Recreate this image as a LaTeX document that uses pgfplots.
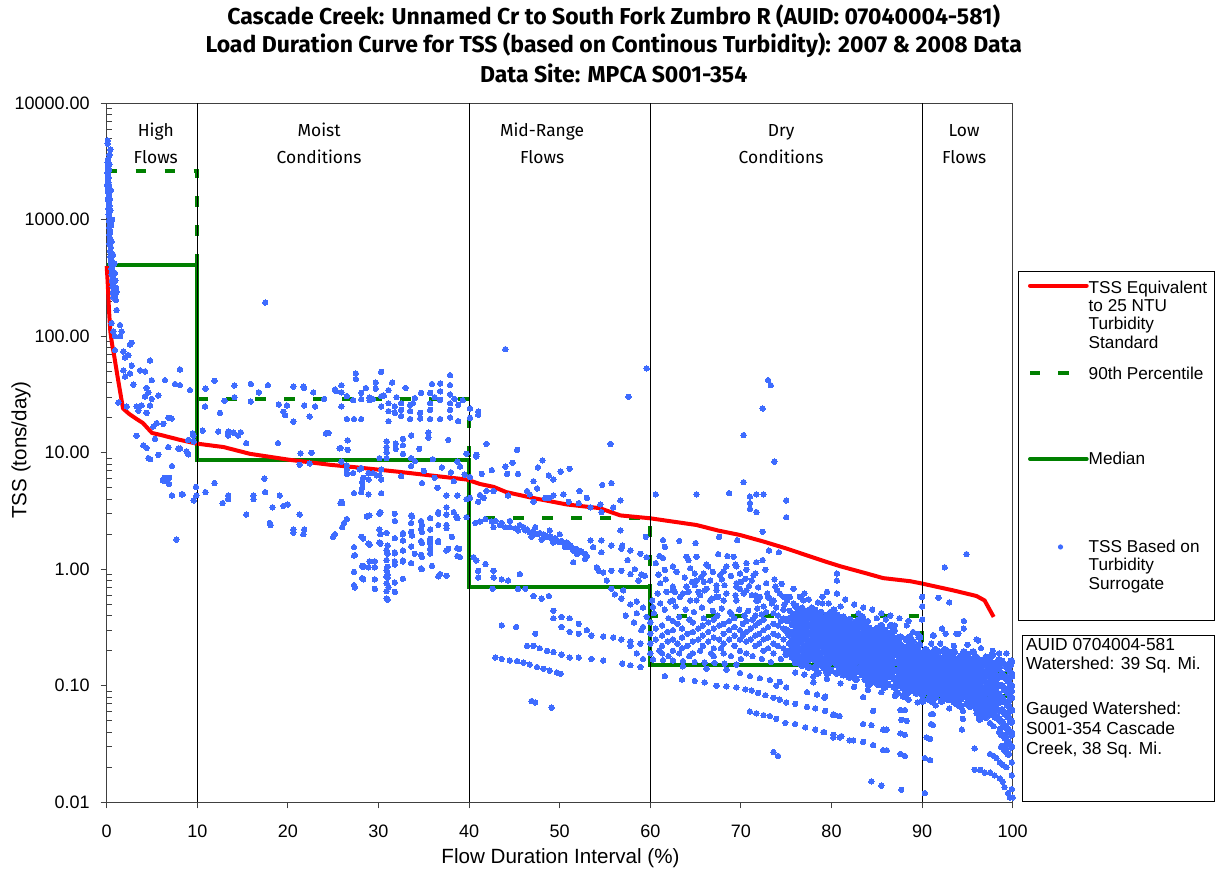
\documentclass[border=0pt]{standalone}
\usepackage{fontspec}
\setmainfont{Liberation Sans}
\newfontfamily\comicfont{Fira Sans}
\usepackage{pgfplots}
\pgfplotsset{compat=1.18}
\usepackage{pgfplotstable}

\definecolor{dotblue}{RGB}{62,108,255}
\definecolor{medgreen}{RGB}{0,128,0}
\definecolor{tssred}{RGB}{255,0,0}

\pgfplotsset{dotstyle/.style={only marks, mark=*, color=dotblue, mark size=1.35pt, mark options={draw=dotblue, fill=dotblue, line width=0pt}}}

% dense cloud of TSS points (75-100 % flow duration), one row per column of dots
\pgfplotstableread{
x y1 y2 y3 y4 y5 y6 y7 y8
75.00 nan nan nan 0.301 nan nan 0.187 nan
75.35 nan 0.376 nan 0.274 nan 0.199 nan nan
75.70 nan 0.394 0.336 0.286 0.244 0.208 0.177 nan
76.05 0.484 0.413 0.352 0.301 0.256 0.219 0.187 0.159
76.40 0.441 0.376 0.321 0.274 0.233 0.199 0.169 nan
76.75 0.461 0.394 0.336 0.286 0.244 0.208 0.177 0.151
77.10 nan 0.413 0.352 0.301 0.256 0.219 0.187 0.159
77.45 0.441 0.376 0.321 0.274 0.233 0.199 0.169 0.145
77.80 0.461 0.394 0.336 0.286 0.244 0.208 0.177 nan
78.15 0.446 0.379 0.322 0.274 0.233 0.198 0.168 0.143
78.50 0.404 0.343 0.292 0.248 0.211 0.179 0.152 0.129
78.85 0.425 0.361 0.307 0.261 0.222 0.189 0.160 nan
79.20 nan 0.379 0.322 0.274 0.233 0.198 0.168 0.143
79.55 0.404 0.343 0.292 0.248 0.211 0.179 0.152 0.129
79.90 0.425 0.361 0.307 0.261 0.222 0.189 0.160 0.136
80.25 0.446 0.379 0.322 0.274 0.233 0.198 0.168 nan
80.60 0.404 0.343 0.292 0.248 0.211 0.179 0.152 0.129
80.95 nan 0.361 0.307 0.261 0.222 0.189 0.160 0.136
81.30 0.387 0.329 0.280 0.239 0.203 0.173 0.147 0.125
81.65 0.352 0.300 0.255 0.217 0.185 0.157 0.134 nan
82.00 0.369 0.314 0.267 0.227 0.193 0.165 0.140 0.119
82.35 nan 0.329 0.280 0.239 0.203 0.173 0.147 0.125
82.70 0.352 0.300 0.255 0.217 0.185 0.157 0.134 0.114
83.05 0.369 0.314 0.267 0.227 0.193 0.165 0.140 nan
83.40 0.387 0.329 0.280 0.239 0.203 0.173 0.147 0.125
83.75 0.352 0.300 0.255 0.217 0.185 0.157 0.134 0.114
84.10 0.313 0.267 0.228 0.194 0.166 0.141 0.121 0.103
84.45 nan 0.281 0.239 0.204 0.174 0.149 0.127 0.108
84.80 0.299 0.255 0.218 0.186 0.158 0.135 0.115 nan
85.15 0.313 0.267 0.228 0.194 0.166 0.141 0.121 0.103
85.50 0.329 0.281 0.239 0.204 0.174 0.149 0.127 0.108
85.85 0.299 0.255 0.218 0.186 0.158 0.135 0.115 0.098
86.20 nan 0.267 0.228 0.194 0.166 0.141 0.121 0.103
86.55 0.329 0.281 0.239 0.204 0.174 0.149 0.127 nan
86.90 0.299 0.255 0.218 0.186 0.158 0.135 0.115 0.098
87.25 0.250 0.215 0.185 0.159 0.136 0.117 0.101 0.087
87.60 0.262 0.225 0.193 0.166 0.143 0.123 0.105 nan
87.95 nan 0.205 0.176 0.151 0.130 0.112 0.096 0.082
88.30 0.250 0.215 0.185 0.159 0.136 0.117 0.101 0.087
88.65 0.262 0.225 0.193 0.166 0.143 0.123 0.105 0.091
89.00 0.239 0.205 0.176 0.151 0.130 0.112 0.096 nan
89.35 nan 0.215 0.185 0.159 0.136 0.117 0.101 0.087
89.70 0.262 0.225 0.193 0.166 0.143 0.123 0.105 0.091
90.05 0.189 0.165 0.144 0.126 0.111 0.097 0.085 0.074
90.40 0.204 0.179 0.156 0.137 0.120 0.105 0.092 nan
90.75 nan 0.172 0.150 0.131 0.115 0.100 0.088 0.077
91.10 0.189 0.165 0.144 0.126 0.111 0.097 0.085 0.074
91.45 0.204 0.179 0.156 0.137 0.120 0.105 0.092 0.080
91.80 0.196 0.172 0.150 0.131 0.115 0.100 0.088 nan
92.15 nan 0.165 0.144 0.126 0.111 0.097 0.085 0.074
92.50 0.204 0.179 0.156 0.137 0.120 0.105 0.092 0.080
92.85 0.196 0.172 0.150 0.131 0.115 0.100 0.088 0.077
93.20 0.179 0.155 0.135 0.117 0.102 0.089 0.077 nan
93.55 0.195 0.169 0.147 0.128 0.111 0.097 0.084 0.073
93.90 nan 0.162 0.141 0.122 0.106 0.092 0.080 0.070
94.25 0.179 0.155 0.135 0.117 0.102 0.089 0.077 0.067
94.60 0.195 0.169 0.147 0.128 0.111 0.097 0.084 nan
94.95 0.186 0.162 0.141 0.122 0.106 0.092 0.080 0.070
95.30 nan 0.155 0.135 0.117 0.102 0.089 0.077 0.067
95.65 0.195 0.169 0.147 0.128 0.111 0.097 0.084 0.073
96.00 0.175 0.148 0.125 0.106 0.090 0.076 0.064 nan
96.35 0.166 0.141 0.119 0.101 0.085 0.072 0.061 0.052
96.70 nan 0.156 0.132 0.111 0.094 0.080 0.067 0.057
97.05 0.175 0.148 0.125 0.106 0.090 0.076 0.064 0.054
97.40 0.166 0.141 0.119 0.101 0.085 0.072 0.061 nan
97.75 0.184 0.156 0.132 0.111 0.094 0.080 0.067 0.057
98.10 nan 0.148 0.125 0.106 0.090 0.076 0.064 0.054
98.45 0.166 0.141 0.119 0.101 0.085 0.072 0.061 0.052
98.80 0.162 0.127 0.100 0.079 0.062 0.049 0.038 0.030
99.15 0.151 0.119 0.093 0.073 0.058 0.045 0.036 0.028
99.50 0.140 0.110 0.087 0.068 0.054 0.042 0.033 0.026
99.85 0.162 0.127 0.100 0.079 0.062 0.049 0.038 0.030
}\blob

\begin{document}
\begin{tikzpicture}
\useasboundingbox (-53.35pt,-34.35pt) rectangle (554.15pt,401.15pt);
\begin{axis}[
  at={(0,0)}, anchor=south west,
  scale only axis, width=453pt, height=349.5pt,
  xmin=0, xmax=100, ymin=0.01, ymax=10000, ymode=log,
  clip=false,
  axis line style={black!75, line width=0.6pt},
  xtick={0,10,20,30,40,50,60,70,80,90,100},
  xticklabels={0,10,20,30,40,50,60,70,80,90,100},
  ytick={0.01,0.1,1,10,100,1000,10000},
  yticklabels={0.01,0.10,1.00,10.00,100.00,1000.00,10000.00},
  minor ytick={0.02,0.03,0.04,0.05,0.06,0.07,0.08,0.09,0.2,0.3,0.4,0.5,0.6,0.7,0.8,0.9,2,3,4,5,6,7,8,9,20,30,40,50,60,70,80,90,200,300,400,500,600,700,800,900,2000,3000,4000,5000,6000,7000,8000,9000},
  xtick pos=bottom, ytick pos=left,
  tick align=outside,
  major tick length=3pt, minor tick length=-2.5pt,
  tick style={black!75, line width=0.5pt},
  tick label style={font=\fontsize{9}{10}\selectfont},
  yticklabel style={xshift=-2pt},
  xticklabel style={yshift=-4.6pt},
]
% Median
\addplot[medgreen, line width=2pt] coordinates {(0,408) (10,408) (10,8.7) (40,8.7) (40,0.71) (60,0.71) (60,0.151) (90,0.151) (90,0.082) (100,0.082)};
% 90th percentile
\addplot[medgreen, line width=2pt, dash pattern=on 5.25pt off 9.25pt] coordinates {(0,2640) (10,2640) (10,28.8) (40,28.8) (40,2.74) (60,2.74) (60,0.4) (90,0.4) (90,0.128) (100,0.128)};
% TSS equivalent to 25 NTU
\addplot[tssred, line width=2pt, line join=round] coordinates {(0,400) (0.1,300) (0.25,170) (0.4,110) (0.6,85) (0.8,70) (1.2,45) (1.8,24) (2.5,21.5) (3.3,19.5) (4.0,18) (4.6,16) (5.0,14.8) (6.0,14.2) (8.1,12.9) (9.9,12.0) (12.9,11.2) (15.8,9.8) (20.2,8.7) (24.6,7.9) (28.3,7.4) (32.0,6.9) (35.7,6.4) (39.7,5.9) (41.2,5.4) (42.7,5.1) (44.1,4.6) (47,4.1) (50.8,3.6) (54.4,3.35) (56.7,2.9) (60,2.74) (62,2.6) (65.1,2.4) (67.5,2.15) (69.9,1.97) (72.5,1.73) (75.0,1.51) (77.5,1.3) (79.4,1.16) (81.0,1.06) (83.9,0.92) (85.7,0.84) (88.7,0.79) (89.8,0.76) (93.4,0.66) (96.0,0.59) (96.9,0.54) (97.9,0.39)};
% TSS based on turbidity surrogate
\addplot[dotstyle] coordinates {
(0.12,4800) (0.10,4500) (0.40,4000) (0.30,3600) (0.15,3300) (0.10,3100) (0.30,3000) (0.18,2950) (0.12,2800) (0.25,2700) (0.20,2650) (0.08,2550) (0.15,2450) (0.22,2300) (0.12,2200) (0.18,2100) (0.25,2000) (0.05,2000) (0.10,1950) (0.20,1850) (0.45,1800) (0.15,1750) (0.28,1650) (0.20,1550) (0.35,1500) (0.12,1480) (0.25,1400) (0.30,1320) (0.18,1250) (0.40,1200) (0.28,1180) (0.22,1100) (0.32,1050) (0.60,1000) (0.25,980) (0.35,920) (0.50,900) (0.28,860) (0.38,800) (0.30,750) (0.35,700) (0.42,660) (0.55,650) (0.30,620) (0.45,580) (0.38,540) (0.50,510) (0.70,500) (0.40,480) (0.55,450) (0.45,420) (0.85,420) (0.60,400) (0.50,380) (0.65,360) (0.55,340) (0.90,350) (0.70,320) (0.60,300) (0.95,300) (0.75,285) (0.65,270) (1.05,260) (0.80,255) (0.70,240) (1.10,240) (0.90,230) (0.75,215) (1.00,205)
(0.73,233) (0.92,218) (1.1,168) (0.55,130) (1.47,125) (1.65,110) (0.73,110) (0.92,100) (1.47,100) (2.76,88) (2.57,85) (0.92,76) (1.84,74) (2.39,69) (2.02,66) (4.78,62) (2.76,56) (8.09,52) (1.84,51) (3.68,51) (4.23,50) (2.57,48) (2.02,45) (4.97,42) (6.43,42) (2.94,38.5) (7.54,39) (8.09,38) (4.41,36) (4.6,33) (9.2,34.5) (5.7,31) (4.23,30.5) (4.97,29) (1.29,27) (3.86,25.5) (3.31,25) (4.78,25.5) (2.21,25) (4.4,22) (3.5,23) (6.8,20) (7.17,19.7) (5.52,18) (6.25,17.7) (5.15,16.8) (9.56,14) (3.3,14) (5.33,13.2) (4.04,11.6) (4.41,11) (6.8,11.2) (7.9,10.9) (8.1,10.9) (9.0,12.9) (8.8,10.3) (9.0,9.7) (4.6,9.0) (4.8,8.8) (5.7,9.6) (7.2,7.7) (6.4,6.1) (6.6,5.7) (6.9,6.1) (6.9,5.4) (6.2,5.8) (7.2,4.3) (8.3,4.4) (7.7,1.8) (9.6,3.9) (8.4,4.4) (9.5,14.7) (9.6,12.5)
(10.85,25) (11.9,41.5) (10.9,35.5) (14.1,37.8) (15.9,39) (17.8,38) (20.6,37) (21.8,36) (14.1,30) (15.9,27.5) (19.0,26) (19.9,25.5) (19.5,22.5) (20.6,18.5) (21.8,25.5) (22.4,20.5) (23.0,25) (25.3,34) (25.9,38) (25.9,33) (27.5,48) (27.5,43) (30.3,49.5) (29.7,40) (29.7,35.5) (31.1,34.5) (26.5,30.7) (27.2,28.3) (28.1,32.7) (28.1,28.9) (29.0,29.8) (29.0,28.3) (29.4,28.9) (30.3,30.6) (30.3,25.0) (31.1,26.6) (31.1,22.8) (31.1,18.7) (31.8,25.0) (31.8,22.0) (32.5,26.6) (32.5,23.4) (32.5,20.7) (33.5,25.8) (33.5,22.8) (33.5,19.5) (34.6,22.0) (34.6,19.7) (35.7,32.7) (35.7,26.6) (35.7,23.4) (35.7,19.5) (36.8,39.4) (36.8,33.7) (36.8,28.5) (36.8,19.5) (37.9,46.3) (37.9,38.1) (37.9,31.7) (37.9,26.6) (37.9,23.4) (37.9,20.1) (38.8,25.8) (38.8,18.7) (35.9,39) (33.8,26.6) (34.7,32.7) (26.5,19.5) (27.3,19.5) (28.1,19.5) (25.9,25.0) (17.5,195) (24.3,14.7) (19.7,21) (25.2,35) (21.7,37) (25.8,11.0) (24.5,14.8) (22.6,10.0) (30.6,31) (32.0,30) (34.0,29.5) (36.2,30) (38.4,29) (39.3,28.3) (33.0,36) (31.5,40) (28.6,36) (24.0,29) (22.8,33) (13.0,28) (16.8,33) (12.5,22) (40.1,24) (41.0,22.6) (41.0,21.2) (40.1,20)
(10.6,15.5) (12.3,15.2) (13.4,15.2) (13.4,14.1) (14.0,14.9) (14.5,14.1) (14.8,15.0) (15.4,12.1) (18.9,12.1) (24.2,14.7) (26.6,12.8) (25.7,10.9) (26.6,10.6) (21.4,9.9) (21.3,7.9) (30.9,12.5) (30.9,11.2) (30.9,10.1) (30.9,9.0) (31.9,12.0) (31.9,10.8) (32.7,13.2) (32.7,11.6) (32.7,9.8) (33.6,14.1) (33.6,9.0) (34.5,10.8) (35.5,14.9) (35.5,13.5) (37.7,12.9) (30.1,9.0) (30.1,6.4) (29.4,6.7) (30.3,7.2) (30.3,5.9) (27.9,7.2) (28.3,6.1) (28.9,6.7) (28.9,5.9) (29.8,6.4) (25.9,8.4) (26.5,7.8) (26.5,6.7) (27.2,6.7) (28.1,7.4) (32.5,6.3) (33.6,7.7) (36.2,6.1) (38.7,8.4) (39.7,9.8) (22.4,8.1) (26.5,7.2) (28.2,5.0) (28.2,5.6) (34.0,8.5) (35.0,7.0) (36.0,8.8) (37.0,7.5) (38.0,6.8) (39.0,7.6) (34.8,5.5) (36.5,5.0) (38.3,5.7) (39.5,6.5)
(9.85,5.1) (9.9,4.3) (10.9,4.6) (11.9,5.5) (12.8,3.7) (13.4,4.3) (13.4,4.0) (15.4,2.95) (16.2,4.3) (16.2,4.0) (17.5,4.6) (17.4,6.0) (18.0,2.5) (18.3,3.4) (19.1,4.3) (19.5,3.5) (20.0,3.6) (20.6,2.2) (21.3,2.95) (21.8,2.2) (25.2,2.0) (26.0,3.7) (26.2,2.5) (26.5,2.7) (27.3,4.5) (28.1,4.6) (28.9,4.4) (30.3,4.5) (27.3,1.55) (27.3,1.31) (27.3,0.95) (27.3,0.73) (28.2,1.07) (28.2,0.84) (29.0,2.9) (29.0,1.62) (29.0,1.17) (29.6,1.17) (29.6,0.82) (29.6,0.68) (30.1,2.2) (30.1,1.70) (30.1,3.0) (30.9,2.05) (30.9,1.45) (30.9,1.2) (30.9,0.97) (30.9,0.86) (30.9,0.76) (30.9,0.65) (30.9,0.56) (31.8,2.6) (31.8,1.37) (31.8,1.17) (31.8,0.77) (32.7,2.05) (32.7,1.45) (32.7,1.17) (32.7,0.83) (33.6,2.9) (33.6,2.5) (33.6,2.1) (33.6,1.57) (33.6,1.13) (34.7,2.6) (34.7,2.2) (34.7,1.75) (34.7,1.33) (34.7,1.02) (35.7,2.75) (35.7,2.2) (35.7,1.75) (35.7,1.37) (36.6,3.0) (36.6,2.4) (36.6,1.75) (36.6,0.87) (37.5,4.3) (37.5,3.4) (37.5,2.95) (37.5,2.4) (37.5,1.45) (37.5,0.88) (38.7,4.3) (38.7,2.75) (38.7,1.52) (38.7,1.30) (39.7,4.0) (39.7,2.8)
(18.1,2.4) (20.6,2.06) (21.7,2.0) (25.0,1.9) (25.8,3.7) (26.0,2.3) (28.3,1.84) (28.3,1.05) (28.3,0.82) (31.0,1.6) (31.0,1.05) (31.0,0.9) (31.8,1.85) (31.8,1.1)
(26.5,6.6) (25.9,3.8) (28.7,2.84) (28.1,1.9) (27.4,1.32) (27.4,0.70) (28.9,1.04) (28.9,1.66) (29.6,1.04) (30.2,1.66) (30.2,2.0) (30.2,3.1) (31.0,1.36) (31.0,0.85) (31.1,0.70) (31.0,0.55) (31.8,3.0) (31.8,1.4) (31.8,0.64) (32.7,2.0) (32.7,1.77) (32.7,1.19) (33.7,1.95) (33.7,2.84) (34.0,1.36) (34.8,1.27) (34.8,2.4) (34.8,2.08) (34.8,1.68) (34.8,1.0) (35.7,1.83) (35.7,1.66) (35.7,1.5) (35.9,1.07) (36.6,3.1) (36.6,1.71) (36.8,0.91) (37.5,2.25) (37.7,1.5) (38.1,1.9) (38.3,3.1) (38.6,2.84) (38.9,1.5) (39.0,1.27)
(44.0,77.5) (59.6,53) (57.6,30.2) (55.6,11.9) (45.3,10.6) (41.9,11.9) (40.8,9.6) (40.8,9.3) (44.0,7.6) (44.8,8.2) (47.6,7.5) (48.1,8.6) (48.8,6.4) (49.3,5.9) (50.1,6.9) (51.1,7.3) (54.7,5.3) (55.7,5.5) (56.7,3.9) (47.1,5.7) (47.5,4.95) (46.4,4.7) (46.7,4.4) (48.4,4.1) (48.8,4.1) (50.4,4.4) (52.2,4.7) (52.1,3.7) (45.4,6.6) (44.2,6.6) (42.5,7.1) (41.4,6.6) (41.2,4.35) (41.6,4.1) (41.0,3.8) (40.1,6.2) (40.1,4.1) (41.9,4.7) (42.7,4.7) (44.3,4.3) (47.1,3.8) (49.3,4.3) (51.0,3.8) (53.0,4.1) (53.4,3.4) (54.5,3.6) (54.6,3.1) (55.9,3.4)
(40.7,2.5) (41.2,2.57) (41.8,2.7) (42.5,2.57) (42.7,2.3) (43.4,2.4) (44.0,2.3) (44.5,2.3) (45.1,2.25) (45.4,2.16) (46.2,2.16) (46.7,2.08) (47.5,2.0) (48.2,2.0) (48.6,1.9) (49.1,1.83) (49.7,1.77) (50.0,1.71) (50.6,1.66) (51.0,1.55) (51.5,1.45) (52.1,1.45) (52.8,1.36) (53.4,1.77) (53.7,1.55) (54.6,1.77) (54.6,1.4) (55.7,1.6) (56.7,2.16) (56.8,1.5) (57.8,1.45) (58.9,1.36) (59.6,1.27) (46.0,2.3) (46.4,2.2) (47.1,2.1) (47.8,2.05) (48.4,1.95) (49.0,1.9) (49.5,1.85) (50.2,1.75) (50.8,1.7) (51.2,1.6) (51.8,1.5) (52.4,1.42) (47.3,2.3) (48.9,2.15) (50.0,2.0) (45.6,2.4) (44.5,2.6) (43.6,2.5) (42.9,2.6) (46.9,1.9) (48.0,1.8) (49.3,1.7) (50.6,1.55) (51.9,1.35) (53.0,1.3)
(40.5,1.27) (40.8,1.19) (51.5,1.15) (52.8,1.23) (54.1,1.04) (54.3,0.97) (55.2,0.80) (54.8,0.94) (55.7,0.97) (56.8,0.97) (57.8,0.91) (58.7,0.80) (59.4,0.88) (55.7,0.68) (56.1,0.61) (56.8,0.56) (57.8,0.50) (58.5,0.53) (59.2,0.47) (59.6,0.39)
(41.0,0.97) (41.0,0.85) (41.8,1.11) (42.7,0.97) (42.7,0.85) (43.6,0.82) (44.3,0.80) (45.6,0.91)
(42.6,0.68) (45.4,0.68) (46.2,0.68) (47.1,0.59) (48.0,0.56) (48.8,0.59) (49.3,0.44) (50.2,0.39) (51.1,0.38) (52.1,0.34) (49.3,0.38) (50.2,0.32) (51.1,0.29) (52.1,0.28) (53.0,0.30) (53.5,0.27) (54.8,0.265) (55.9,0.26) (56.8,0.25) (57.8,0.24) (58.9,0.23)
(43.6,0.33) (45.2,0.32) (47.3,0.28) (46.4,0.22) (47.1,0.22) (47.8,0.21) (48.6,0.20) (49.3,0.195) (50.2,0.185) (51.1,0.175) (52.1,0.175) (53.5,0.17) (54.8,0.165) (56.9,0.155) (57.8,0.15) (58.9,0.145)
(42.9,0.175) (43.6,0.17) (44.5,0.165) (45.3,0.163) (46.0,0.158) (46.7,0.152) (47.5,0.145) (48.2,0.14) (48.9,0.135) (49.7,0.13) (50.1,0.127) (46.9,0.074) (47.3,0.072) (49.1,0.065)
(57.0,0.66) (58.5,0.42) (59.2,0.32) (57.8,0.22) (58.5,0.19) (59.2,0.17) (57.3,0.40) (58.2,0.35) (59.0,0.30) (57.5,1.2) (58.3,1.0) (59.0,0.9) (56.9,1.6)
(70.3,14.2) (73.7,8.4) (70.3,5.6) (60.6,4.4) (65.1,4.4) (68.7,4.5) (71.0,4.2) (71.7,4.4) (72.5,4.4) (71.0,3.7) (71.0,3.3) (71.7,3.1) (75.0,3.9) (75.0,2.8) (72.4,2.1) (73.0,42) (73.3,38) (72.4,24)
(59.5,1.9) (61.4,1.78) (61.6,1.56) (63.2,1.75) (65.0,1.68) (67.6,1.9) (68.5,1.3) (69.6,1.78) (70.6,1.13) (71.7,1.15) (72.4,1.2) (72.7,0.99) (74.2,1.4) (73.1,1.45) (61.0,1.3) (60.6,1.13) (61.4,1.25) (61.6,0.99) (62.5,1.06) (64.0,1.28) (64.2,1.2) (64.4,1.02) (65.1,1.28) (66.2,1.1) (66.4,1.06) (65.9,0.92) (67.5,1.35) (68.1,0.96) (68.4,1.06) (67.7,0.89) (69.2,1.28) (69.4,1.1) (69.5,1.06) (69.9,0.92) (70.6,0.99) (71.4,0.89) (70.5,0.83) (71.2,0.80) (71.6,0.92) (64.9,0.92) (65.1,0.80) (64.9,0.73) (65.9,0.78) (66.6,0.80) (67.3,0.73) (67.3,0.66) (68.2,0.73) (68.4,0.62) (69.5,0.71) (69.4,0.60) (69.5,0.54) (70.6,0.66) (71.2,0.60) (71.7,0.54) (72.1,0.58) (72.9,0.62) (73.2,0.56) (73.6,0.54) (74.0,0.66) (74.3,0.62) (74.7,0.58) (75.1,0.54) (75.4,0.58) (75.8,0.51) (62.5,0.71) (62.7,0.64) (62.5,0.54) (61.8,0.64) (62.2,0.53) (63.3,0.58) (64.0,0.71) (64.2,0.64) (64.4,0.54) (65.1,0.54) (65.5,0.60) (66.0,0.66) (66.6,0.54) (67.3,0.58) (68.1,0.54) (61.1,0.51) (60.3,0.475) (60.2,0.54)
(61.1,0.76) (62.5,0.66) (63.6,0.62) (65.3,0.64) (66.2,0.68) (66.8,0.56) (67.5,0.58) (69.5,0.76) (69.9,0.68) (70.3,0.62) (71.6,0.60) (71.9,0.54) (72.5,0.48) (73.0,0.58) (73.4,0.51) (73.8,0.71) (75.0,0.58) (75.8,0.68) (76.9,0.54)
(60.9,0.9) (61.7,0.82) (62.9,0.95) (63.8,0.85) (64.6,0.78) (65.6,0.86) (66.9,0.95) (67.9,0.82) (68.9,0.88) (70.0,0.78) (70.9,0.72) (71.9,0.70) (72.8,0.76) (73.7,0.82) (74.5,0.75) (60.8,0.62) (61.6,0.45) (62.8,0.48) (63.9,0.45) (64.8,0.43) (65.7,0.47) (66.9,0.44) (67.9,0.46) (68.8,0.43) (69.8,0.45) (70.8,0.44) (71.8,0.46) (72.8,0.43) (73.9,0.47) (74.8,0.5) (60.4,0.42) (62.0,0.38) (63.2,0.39) (64.3,0.37) (65.9,0.38) (67.4,0.4) (69.0,0.41) (70.4,0.4) (71.3,0.37) (72.3,0.41) (74.4,0.36)
(61.0,0.2) (62.0,0.18) (63.2,0.19) (64.3,0.18) (65.5,0.2) (66.7,0.19) (67.8,0.21) (68.9,0.18) (70.0,0.17) (71.3,0.18) (72.3,0.17) (73.3,0.16) (74.4,0.17) (75.0,0.19) (75.3,0.23) (75.2,0.3) (75.1,0.36) (75.4,0.44)
(60.0,0.35) (60.0,0.28) (60.0,0.23) (60.0,0.19) (61.3,0.33) (61.3,0.27) (61.3,0.22) (61.3,0.19) (62.5,0.36) (62.5,0.30) (62.5,0.25) (62.5,0.20) (63.5,0.31) (63.5,0.26) (63.5,0.21) (64.7,0.35) (64.7,0.29) (64.7,0.24) (64.7,0.19) (65.8,0.33) (65.8,0.27) (65.8,0.22) (67.0,0.37) (67.0,0.31) (67.0,0.26) (67.0,0.21) (67.0,0.18) (68.1,0.34) (68.1,0.28) (68.1,0.23) (68.1,0.19) (69.3,0.38) (69.3,0.32) (69.3,0.27) (69.3,0.22) (69.9,0.30) (69.9,0.25) (69.9,0.20) (70.6,0.36) (70.6,0.29) (70.6,0.24) (70.6,0.19) (71.6,0.40) (71.6,0.33) (71.6,0.27) (71.6,0.22) (72.5,0.37) (72.5,0.30) (72.5,0.25) (72.5,0.20) (73.6,0.42) (73.6,0.34) (73.6,0.28) (73.6,0.23) (73.6,0.19) (74.7,0.45) (74.7,0.38) (74.7,0.31) (74.7,0.25) (74.7,0.21)
(60.6,0.31) (60.6,0.25) (61.9,0.29) (61.9,0.24) (63.0,0.34) (63.0,0.23) (64.1,0.28) (64.1,0.22) (65.3,0.31) (65.3,0.25) (66.4,0.35) (66.4,0.29) (66.4,0.24) (67.6,0.33) (67.6,0.25) (68.7,0.36) (68.7,0.30) (68.7,0.25) (70.2,0.34) (70.2,0.27) (71.1,0.31) (71.1,0.25) (72.0,0.35) (72.0,0.28) (72.0,0.23) (73.0,0.32) (73.0,0.26) (73.0,0.21) (74.1,0.40) (74.1,0.33) (74.1,0.27) (74.1,0.22)
(60.3,0.168) (61.4,0.166) (62.5,0.165) (63.6,0.163) (64.9,0.16) (66.0,0.158) (67.1,0.157) (68.2,0.155) (69.5,0.152) (63.6,0.147) (66.2,0.14) (68.4,0.137) (69.9,0.129) (71.0,0.121) (72.1,0.116) (73.2,0.112) (74.3,0.108)
(61.6,0.121) (63.5,0.113) (64.9,0.110) (66.0,0.107) (67.3,0.100) (68.4,0.099) (69.5,0.097) (70.5,0.093) (71.2,0.091) (71.9,0.087) (72.7,0.083) (73.6,0.079) (74.3,0.076) (75.0,0.072) (76.0,0.070) (77.3,0.066) (78.2,0.064) (79.3,0.061) (80.2,0.056) (80.9,0.055)
(71.0,0.060) (71.7,0.058) (72.5,0.056) (73.2,0.055) (73.9,0.052) (74.9,0.048) (76.0,0.047) (77.1,0.044) (78.2,0.042) (79.1,0.040) (80.2,0.036) (80.9,0.036) (82.0,0.034)
(73.6,0.027) (74.1,0.025) (73.9,0.100) (75.0,0.097) (77.3,0.088) (78.4,0.084) (79.3,0.081) (78.0,0.107)
(79.2,0.079) (80.2,0.057) (80.4,0.056) (79.2,0.040) (80.2,0.038) (81.1,0.037) (82.4,0.034) (83.5,0.033) (84.6,0.031) (85.7,0.028) (86.1,0.028) (87.6,0.026) (88.1,0.025) (83.5,0.047) (84.4,0.046) (85.7,0.042) (86.1,0.042) (87.6,0.039) (88.1,0.038) (83.5,0.080) (84.6,0.061) (87.7,0.051) (88.3,0.050) (87.6,0.062) (88.1,0.062) (84.4,0.0151) (85.5,0.0139) (87.7,0.0128)
(90.0,0.076) (91.0,0.057) (91.2,0.057) (91.0,0.047) (91.2,0.046) (90.5,0.036) (90.9,0.035) (90.3,0.024) (90.9,0.023) (90.3,0.012) (94.5,0.052) (94.4,0.042) (95.8,0.029) (95.8,0.019) (96.4,0.019) (96.9,0.018) (97.5,0.026) (97.9,0.025) (98.2,0.024) (98.6,0.022) (98.9,0.021) (99.3,0.020) (97.5,0.018) (98.0,0.017) (98.6,0.016) (98.9,0.015) (99.1,0.0135) (99.5,0.012) (99.7,0.011) (97.9,0.045) (98.6,0.043) (99.1,0.038) (99.9,0.050) (99.9,0.040) (99.9,0.030) (99.9,0.022) (99.9,0.017) (99.9,0.013) (100,0.011) (99.7,0.060) (99.6,0.075) (99.9,0.09) (99.95,0.12) (99.8,0.15)
(80.6,0.92) (80.6,0.80) (80.6,0.62) (79.5,0.64) (79.0,0.58) (79.0,0.51) (79.7,0.51) (88.3,0.33) (90.0,0.58) (90.0,0.48) (90.0,0.37) (91.8,0.57) (93.0,0.52) (92.5,1.04) (94.6,0.36) (94.6,0.31) (93.8,0.28) (92.2,0.31) (92.6,0.28) (91.2,0.27) (96.0,0.25) (94.9,1.35) (91.3,0.27) (94.0,0.28) (96.2,0.245) (81.5,0.55) (82.5,0.50) (83.5,0.47) (84.5,0.45) (85.5,0.42) (86.5,0.40) (87.5,0.38) (88.5,0.36) (81.0,0.48) (83.0,0.42) (85.0,0.38) (87.0,0.33) (89.0,0.29) (76.5,0.58) (77.5,0.55) (78.5,0.52) (77.0,0.62)
(76.0,0.13) (77.0,0.125) (78.0,0.12) (79.5,0.115) (81.0,0.105) (82.5,0.098) (84.0,0.092) (85.5,0.088) (87.0,0.082) (88.5,0.076) (89.5,0.072) (91.5,0.068) (93.0,0.064) (94.5,0.061) (96.0,0.058) (97.5,0.048) (98.5,0.040) (99.3,0.032) (92.0,0.23) (93.5,0.22) (95.0,0.225) (96.5,0.21) (97.8,0.2) (98.5,0.19) (99.3,0.19) (91.0,0.23) (89.5,0.28) (86.0,0.37) (84.0,0.36)
};
\pgfplotsinvokeforeach{1,...,8}{\addplot[dotstyle, mark size=1.75pt] table[x=x, y=y#1] {\blob};}
% flow regime boundaries
\draw[black, line width=0.5pt] (axis cs:10,0.01) -- (axis cs:10,10000);
\draw[black, line width=0.5pt] (axis cs:40,0.01) -- (axis cs:40,10000);
\draw[black, line width=0.5pt] (axis cs:60,0.01) -- (axis cs:60,10000);
\draw[black, line width=0.5pt] (axis cs:90,0.01) -- (axis cs:90,10000);
\end{axis}

% titles
\begin{scope}[every node/.style={font=\comicfont\bfseries\fontsize{11.5}{13}\selectfont, anchor=base, inner sep=0pt}]
\node at (253.5pt,388.65pt) {Cascade Creek: Unnamed Cr to South Fork Zumbro R (AUID: 07040004-581)};
\node at (253.5pt,374.65pt) {Load Duration Curve for TSS (based on Continous Turbidity): 2007 \& 2008 Data};
\node at (253.5pt,359.65pt) {Data Site: MPCA S001-354};
\end{scope}

% flow regime labels
\begin{scope}[every node/.style={font=\comicfont\fontsize{8.7}{10}\selectfont, anchor=base, inner sep=0pt}]
\node at (24.55pt,332.8pt) {High};
\node at (24.55pt,319.5pt) {Flows};
\node at (106.2pt,332.8pt) {Moist};
\node at (106.2pt,319.5pt) {Conditions};
\node at (217.7pt,332.8pt) {Mid-Range};
\node at (217.7pt,319.5pt) {Flows};
\node at (337.2pt,332.8pt) {Dry};
\node at (337.2pt,319.5pt) {Conditions};
\node at (428.7pt,332.8pt) {Low};
\node at (428.7pt,319.5pt) {Flows};
\end{scope}

% axis titles
\node[font=\fontsize{10.3}{12}\selectfont] at (226.9pt,-27.85pt) {Flow Duration Interval (\%)};
\node[font=\fontsize{10.3}{12}\selectfont, rotate=90] at (-42.85pt,176.15pt) {TSS (tons/day)};

% legend
\draw[black, line width=0.5pt] (455.8pt,90.85pt) rectangle (553.8pt,265.3pt);
\draw[tssred, line width=2pt, line cap=round] (461.65pt,258.3pt) -- (490pt,258.3pt);
\draw[medgreen, line width=2pt] (461.65pt,214.5pt) -- (466.65pt,214.5pt);
\draw[medgreen, line width=2pt] (475.8pt,214.5pt) -- (481.3pt,214.5pt);
\draw[medgreen, line width=2pt, line cap=round] (461.65pt,171.65pt) -- (490pt,171.65pt);
\fill[dotblue] (476.9pt,127.65pt) circle (1.3pt);
\begin{scope}[every node/.style={font=\fontsize{8.6}{10}\selectfont, anchor=base west, inner sep=0pt}]
\node at (490.8pt,254.5pt) {TSS Equivalent};
\node at (490.8pt,245.3pt) {to 25 NTU};
\node at (490.8pt,236.15pt) {Turbidity};
\node at (490.8pt,227pt) {Standard};
\node at (490.8pt,211.5pt) {90th Percentile};
\node at (490.8pt,168.65pt) {Median};
\node at (490.8pt,124.8pt) {TSS Based on};
\node at (490.8pt,115.65pt) {Turbidity};
\node at (490.8pt,106.5pt) {Surrogate};
\end{scope}

% watershed info box
\draw[black, line width=0.5pt] (457.75pt,0.4pt) rectangle (553.8pt,83.35pt);
\begin{scope}[every node/.style={font=\fontsize{8.7}{10}\selectfont, anchor=base west, inner sep=0pt}]
\node at (459.5pt,76.05pt) {AUID 0704004-581};
\node at (459.5pt,66.15pt) {Watershed: 39 Sq. Mi.};
\node at (459.5pt,43.8pt) {Gauged Watershed:};
\node at (459.5pt,33.85pt) {S001-354 Cascade};
\node at (459.5pt,23.75pt) {Creek, 38 Sq. Mi.};
\end{scope}
\end{tikzpicture}
\end{document}
